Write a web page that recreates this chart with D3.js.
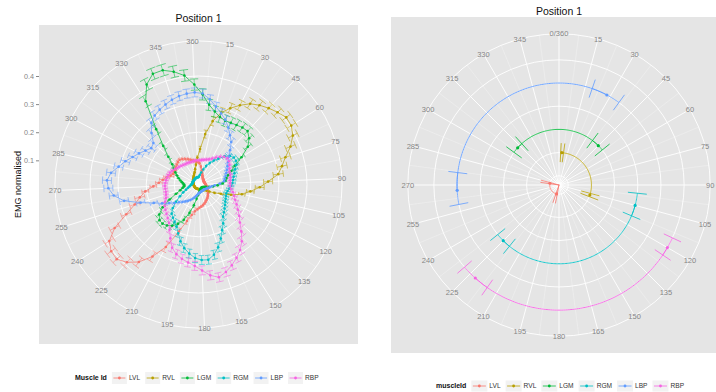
<!DOCTYPE html>
<html>
<head>
<meta charset="utf-8">
<script src="https://cdn.jsdelivr.net/npm/d3@7"></script>
<style>
  html, body { margin: 0; padding: 0; background: #fff; }
  svg { display: block; font-family: "Liberation Sans", Arial, sans-serif; }
</style>
</head>
<body>
<svg id="chart" width="716" height="392"></svg>
<script>
// ---------------- data ----------------
const muscles = ['LVL', 'RVL', 'LGM', 'RGM', 'LBP', 'RBP'];

// angle of each sample (degrees), left panel
const angles = [
  0, 5, 10, 15, 20, 25, 30, 35, 40, 45, 50, 55,
  60, 65, 70, 75, 80, 85, 90, 95, 100, 105, 110, 115,
  120, 125, 130, 135, 140, 145, 150, 155, 160, 165, 170, 175,
  180, 185, 190, 195, 200, 205, 210, 215, 220, 225, 230, 235,
  240, 245, 250, 255, 260, 265, 270, 275, 280, 285, 290, 295,
  300, 305, 310, 315, 320, 325, 330, 335, 340, 345, 350, 355
];

// mean normalised EMG per angle
const lvlMean = [
  0.095, 0.090, 0.078, 0.066, 0.057, 0.050, 0.045, 0.042, 0.040, 0.039, 0.038, 0.037,
  0.036, 0.036, 0.036, 0.036, 0.037, 0.038, 0.039, 0.040, 0.042, 0.044, 0.046, 0.048,
  0.050, 0.053, 0.056, 0.060, 0.064, 0.068, 0.072, 0.076, 0.080, 0.085, 0.089, 0.093,
  0.097, 0.102, 0.110, 0.125, 0.150, 0.195, 0.265, 0.318, 0.362, 0.390, 0.408, 0.405,
  0.390, 0.350, 0.292, 0.252, 0.228, 0.205, 0.175, 0.155, 0.142, 0.130, 0.118, 0.112,
  0.111, 0.112, 0.115, 0.119, 0.123, 0.125, 0.121, 0.116, 0.111, 0.106, 0.101, 0.098
];
const rvlMean = [
  0.110, 0.140, 0.195, 0.245, 0.282, 0.308, 0.332, 0.355, 0.370, 0.383, 0.395, 0.407,
  0.405, 0.392, 0.368, 0.338, 0.318, 0.300, 0.262, 0.232, 0.200, 0.172, 0.135, 0.100,
  0.078, 0.060, 0.050, 0.044, 0.040, 0.037, 0.035, 0.034, 0.033, 0.032, 0.032, 0.031,
  0.031, 0.030, 0.030, 0.030, 0.030, 0.030, 0.030, 0.030, 0.030, 0.030, 0.030, 0.030,
  0.030, 0.030, 0.030, 0.031, 0.031, 0.031, 0.032, 0.032, 0.033, 0.033, 0.034, 0.035,
  0.036, 0.037, 0.038, 0.040, 0.042, 0.044, 0.047, 0.050, 0.054, 0.060, 0.070, 0.085
];
const lgmMean = [
  0.370, 0.335, 0.300, 0.280, 0.266, 0.260, 0.262, 0.265, 0.270, 0.272, 0.258, 0.235,
  0.195, 0.160, 0.140, 0.125, 0.115, 0.110, 0.100, 0.082, 0.066, 0.052, 0.042, 0.036,
  0.033, 0.031, 0.030, 0.030, 0.030, 0.030, 0.030, 0.031, 0.032, 0.034, 0.036, 0.040,
  0.045, 0.052, 0.065, 0.090, 0.120, 0.150, 0.172, 0.188, 0.198, 0.203, 0.202, 0.190,
  0.165, 0.130, 0.100, 0.082, 0.072, 0.066, 0.065, 0.068, 0.073, 0.080, 0.088, 0.097,
  0.107, 0.118, 0.132, 0.160, 0.200, 0.262, 0.365, 0.415, 0.440, 0.440, 0.425, 0.405
];
const rgmMean = [
  0.040, 0.042, 0.048, 0.058, 0.070, 0.085, 0.100, 0.115, 0.130, 0.150, 0.165, 0.172,
  0.172, 0.165, 0.155, 0.148, 0.142, 0.138, 0.135, 0.130, 0.125, 0.120, 0.118, 0.120,
  0.123, 0.127, 0.133, 0.140, 0.148, 0.158, 0.178, 0.197, 0.222, 0.248, 0.270, 0.284,
  0.283, 0.276, 0.262, 0.246, 0.226, 0.202, 0.183, 0.172, 0.163, 0.155, 0.138, 0.115,
  0.092, 0.075, 0.062, 0.053, 0.047, 0.043, 0.040, 0.038, 0.037, 0.036, 0.036, 0.036,
  0.036, 0.036, 0.036, 0.036, 0.037, 0.037, 0.038, 0.038, 0.039, 0.039, 0.040, 0.040
];
const lbpMean = [
  0.342, 0.338, 0.320, 0.298, 0.280, 0.263, 0.243, 0.222, 0.205, 0.180, 0.160, 0.146,
  0.136, 0.128, 0.121, 0.115, 0.110, 0.106, 0.090, 0.072, 0.062, 0.056, 0.052, 0.048,
  0.046, 0.044, 0.042, 0.041, 0.040, 0.040, 0.040, 0.040, 0.040, 0.041, 0.042, 0.043,
  0.045, 0.048, 0.052, 0.057, 0.063, 0.069, 0.076, 0.083, 0.090, 0.098, 0.108, 0.122,
  0.138, 0.160, 0.186, 0.230, 0.285, 0.318, 0.335, 0.340, 0.328, 0.305, 0.287, 0.268,
  0.253, 0.238, 0.226, 0.232, 0.262, 0.290, 0.305, 0.314, 0.322, 0.330, 0.336, 0.340
];
const rbpMean = [
  0.100, 0.100, 0.102, 0.104, 0.107, 0.111, 0.118, 0.128, 0.138, 0.148, 0.153, 0.150,
  0.144, 0.138, 0.134, 0.132, 0.130, 0.128, 0.127, 0.127, 0.130, 0.139, 0.147, 0.155,
  0.167, 0.180, 0.197, 0.214, 0.240, 0.268, 0.290, 0.308, 0.325, 0.340, 0.352, 0.340,
  0.320, 0.304, 0.294, 0.285, 0.274, 0.258, 0.230, 0.205, 0.186, 0.176, 0.168, 0.162,
  0.157, 0.148, 0.139, 0.135, 0.133, 0.133, 0.134, 0.132, 0.130, 0.128, 0.126, 0.124,
  0.120, 0.115, 0.110, 0.107, 0.104, 0.102, 0.100, 0.100, 0.099, 0.099, 0.099, 0.100
];

// standard error per angle
const lvlErr = [
  0.006, 0.006, 0.006, 0.006, 0.006, 0.006, 0.006, 0.006, 0.004, 0.004, 0.004, 0.004,
  0.004, 0.004, 0.004, 0.004, 0.004, 0.004, 0.004, 0.004, 0.004, 0.004, 0.004, 0.004,
  0.004, 0.004, 0.004, 0.004, 0.004, 0.004, 0.004, 0.004, 0.004, 0.004, 0.004, 0.004,
  0.004, 0.004, 0.012, 0.012, 0.012, 0.012, 0.018, 0.018, 0.018, 0.018, 0.018, 0.018,
  0.018, 0.018, 0.018, 0.018, 0.018, 0.012, 0.012, 0.012, 0.012, 0.012, 0.012, 0.006,
  0.006, 0.006, 0.006, 0.006, 0.006, 0.006, 0.006, 0.006, 0.006, 0.006, 0.006, 0.006
];
const rvlErr = [
  0.006, 0.010, 0.014, 0.016, 0.018, 0.018, 0.018, 0.018, 0.018, 0.018, 0.018, 0.018,
  0.018, 0.018, 0.018, 0.018, 0.018, 0.018, 0.016, 0.016, 0.014, 0.012, 0.010, 0.008,
  0.005, 0.004, 0.003, 0.003, 0.003, 0.003, 0.003, 0.003, 0.003, 0.003, 0.003, 0.003,
  0.003, 0.003, 0.003, 0.003, 0.003, 0.003, 0.003, 0.003, 0.003, 0.003, 0.003, 0.003,
  0.003, 0.003, 0.003, 0.003, 0.003, 0.003, 0.003, 0.003, 0.003, 0.003, 0.003, 0.003,
  0.003, 0.003, 0.003, 0.003, 0.003, 0.003, 0.003, 0.003, 0.003, 0.004, 0.005, 0.005
];
const lgmErr = [
  0.020, 0.020, 0.020, 0.020, 0.020, 0.020, 0.020, 0.020, 0.018, 0.018, 0.016, 0.015,
  0.012, 0.010, 0.008, 0.006, 0.005, 0.005, 0.004, 0.004, 0.004, 0.004, 0.004, 0.004,
  0.004, 0.004, 0.004, 0.004, 0.004, 0.004, 0.004, 0.004, 0.004, 0.004, 0.004, 0.004,
  0.004, 0.004, 0.006, 0.008, 0.010, 0.012, 0.012, 0.012, 0.012, 0.012, 0.012, 0.012,
  0.010, 0.008, 0.006, 0.005, 0.005, 0.005, 0.005, 0.005, 0.005, 0.005, 0.005, 0.005,
  0.006, 0.008, 0.010, 0.012, 0.015, 0.018, 0.020, 0.020, 0.020, 0.020, 0.020, 0.020
];
const rgmErr = [
  0.004, 0.004, 0.005, 0.005, 0.006, 0.006, 0.007, 0.008, 0.009, 0.010, 0.010, 0.010,
  0.010, 0.010, 0.010, 0.010, 0.010, 0.010, 0.010, 0.010, 0.010, 0.010, 0.010, 0.010,
  0.010, 0.010, 0.011, 0.012, 0.013, 0.014, 0.015, 0.015, 0.016, 0.016, 0.016, 0.016,
  0.016, 0.016, 0.016, 0.016, 0.015, 0.014, 0.013, 0.012, 0.012, 0.010, 0.009, 0.008,
  0.007, 0.006, 0.005, 0.005, 0.004, 0.004, 0.004, 0.004, 0.004, 0.004, 0.004, 0.004,
  0.004, 0.004, 0.004, 0.004, 0.004, 0.004, 0.004, 0.004, 0.004, 0.004, 0.004, 0.004
];
const lbpErr = [
  0.016, 0.016, 0.016, 0.016, 0.016, 0.016, 0.016, 0.016, 0.016, 0.014, 0.012, 0.010,
  0.010, 0.009, 0.008, 0.008, 0.007, 0.007, 0.006, 0.005, 0.004, 0.004, 0.004, 0.004,
  0.004, 0.004, 0.004, 0.004, 0.004, 0.004, 0.004, 0.004, 0.004, 0.004, 0.004, 0.004,
  0.004, 0.004, 0.004, 0.004, 0.004, 0.005, 0.005, 0.006, 0.006, 0.007, 0.008, 0.009,
  0.010, 0.012, 0.014, 0.016, 0.016, 0.016, 0.016, 0.016, 0.016, 0.016, 0.016, 0.016,
  0.016, 0.016, 0.016, 0.016, 0.016, 0.016, 0.016, 0.016, 0.016, 0.016, 0.016, 0.016
];
const rbpErr = [
  0.006, 0.006, 0.006, 0.006, 0.006, 0.006, 0.007, 0.008, 0.008, 0.008, 0.008, 0.008,
  0.008, 0.008, 0.008, 0.008, 0.008, 0.008, 0.008, 0.008, 0.009, 0.010, 0.011, 0.012,
  0.013, 0.014, 0.015, 0.016, 0.016, 0.016, 0.016, 0.016, 0.016, 0.016, 0.016, 0.016,
  0.016, 0.016, 0.016, 0.016, 0.016, 0.015, 0.014, 0.012, 0.011, 0.010, 0.009, 0.009,
  0.008, 0.008, 0.008, 0.008, 0.008, 0.008, 0.008, 0.008, 0.008, 0.008, 0.008, 0.008,
  0.007, 0.007, 0.006, 0.006, 0.006, 0.006, 0.006, 0.006, 0.006, 0.006, 0.006, 0.006
];

// right panel: onset / offset angle of each muscle with their error range
const onset = [195, 5, 312, 105, 267, 120];
const onsetLo = [191, 3, 306, 96, 259, 115];
const onsetHi = [199, 8, 318, 113, 277, 124];
const offset = [281, 108, 405, 225, 388, 222];
const offsetLo = [278, 105, 397, 219, 379, 215];
const offsetHi = [285, 111, 411, 231, 396, 229];

// axis breaks / labels
const leftThetaBreaks = [15, 30, 45, 60, 75, 90, 105, 120, 135, 150, 165, 180,
  195, 210, 225, 240, 255, 270, 285, 300, 315, 330, 345, 360];
const leftThetaLabels = ['15', '30', '45', '60', '75', '90', '105', '120', '135', '150', '165', '180',
  '195', '210', '225', '240', '255', '270', '285', '300', '315', '330', '345', '360'];
const rightThetaBreaks = [0, 15, 30, 45, 60, 75, 90, 105, 120, 135, 150, 165,
  180, 195, 210, 225, 240, 255, 270, 285, 300, 315, 330, 345];
const rightThetaLabels = ['0/360', '15', '30', '45', '60', '75', '90', '105', '120', '135', '150', '165',
  '180', '195', '210', '225', '240', '255', '270', '285', '300', '315', '330', '345'];
const emgBreaks = [0.1, 0.2, 0.3, 0.4];

// ---------------- setup ----------------
const colour = d3.scaleOrdinal()
  .domain(muscles)
  .range(['#F8766D', '#B79F00', '#00BA38', '#00BFC4', '#619CFF', '#F564E3']);

const means = [lvlMean, rvlMean, lgmMean, rgmMean, lbpMean, rbpMean];
const errs = [lvlErr, rvlErr, lgmErr, rgmErr, lbpErr, rbpErr];

const svg = d3.select('#chart');
const rad = d => d * Math.PI / 180;
const GREY_TXT = '#868686';

function drawGrid(g, theta, ring, majors, rings) {
  const minors = d3.pairs([majors[0] - 15].concat(majors)).map(([a, b]) => (a + b) / 2);
  g.append('g').selectAll('line').data(minors).join('line')
    .attr('x1', 0).attr('y1', 0)
    .attr('x2', d => d3.pointRadial(rad(theta(d)), ring)[0])
    .attr('y2', d => d3.pointRadial(rad(theta(d)), ring)[1])
    .attr('stroke', '#F2F2F2').attr('stroke-width', 0.5);
  g.append('g').selectAll('line').data(majors).join('line')
    .attr('x1', 0).attr('y1', 0)
    .attr('x2', d => d3.pointRadial(rad(theta(d)), ring)[0])
    .attr('y2', d => d3.pointRadial(rad(theta(d)), ring)[1])
    .attr('stroke', '#fff').attr('stroke-width', 0.9);
  g.append('g').selectAll('circle').data(rings.concat([ring])).join('circle')
    .attr('r', d => d)
    .attr('fill', 'none').attr('stroke', '#fff').attr('stroke-width', 0.9);
}

function drawThetaLabels(g, theta, ring, breaks, labels) {
  g.append('g').selectAll('text').data(breaks).join('text')
    .attr('x', d => d3.pointRadial(rad(theta(d)), ring)[0])
    .attr('y', d => d3.pointRadial(rad(theta(d)), ring)[1])
    .attr('text-anchor', 'middle').attr('dy', '0.35em')
    .attr('font-size', 7.5).attr('fill', GREY_TXT)
    .text((d, i) => labels[i]);
}

function drawLegend(x0, cy, title, keyW, keyH) {
  const g = svg.append('g');
  const t = g.append('text').attr('x', x0).attr('y', cy).attr('dy', '0.35em')
    .attr('font-size', 7).attr('font-weight', 'bold').attr('fill', '#111').text(title);
  let x = x0 + t.node().getComputedTextLength() + 5;
  muscles.forEach(m => {
    g.append('rect').attr('x', x).attr('y', cy - keyH / 2).attr('width', keyW).attr('height', keyH)
      .attr('fill', '#F2F2F2');
    g.append('line').attr('x1', x + 1.5).attr('x2', x + keyW - 1.5).attr('y1', cy).attr('y2', cy)
      .attr('stroke', colour(m)).attr('stroke-width', 0.8);
    g.append('circle').attr('cx', x + keyW / 2).attr('cy', cy).attr('r', 1.4).attr('fill', colour(m));
    const lab = g.append('text').attr('x', x + keyW + 2).attr('y', cy).attr('dy', '0.35em')
      .attr('font-size', 6.6).attr('fill', '#333').text(m);
    x += keyW + 2 + lab.node().getComputedTextLength() + 5;
  });
}

// ---------------- left panel ----------------
const L = { x: 39, y: 25, size: 319 };
const lcx = L.x + L.size / 2, lcy = L.y + L.size / 2;
const ringL = 0.45 * L.size;
const rL = d3.scaleLinear().domain([0.014, 0.468]).range([0, 0.4 * L.size]);
const thetaL = d3.scaleLinear().domain([0, 360]).range([-2.4, 357.6]);

svg.append('rect').attr('x', L.x).attr('y', L.y).attr('width', L.size).attr('height', L.size)
  .attr('fill', '#E5E5E5');

const gL = svg.append('g').attr('transform', `translate(${lcx},${lcy})`);
drawGrid(gL, thetaL, ringL, leftThetaBreaks, emgBreaks.map(rL));
drawThetaLabels(gL, thetaL, ringL, leftThetaBreaks, leftThetaLabels);

const series = muscles.map((m, i) => ({
  name: m,
  pts: angles.map((a, j) => ({ a, v: means[i][j], e: errs[i][j] }))
}));

const capHalf = 2.25; // degrees, errorbar width 0.9 * 5
const radial = d3.lineRadial().angle(d => rad(thetaL(d[0]))).radius(d => rL(d[1]));

// error bars
series.forEach(s => {
  const g = gL.append('g').attr('stroke', colour(s.name)).attr('stroke-width', 0.55).attr('fill', 'none');
  s.pts.forEach(p => {
    const lo = p.v - p.e, hi = p.v + p.e;
    g.append('path').attr('d', radial([[p.a, lo], [p.a, hi]]));
    g.append('path').attr('d', radial([[p.a - capHalf, lo], [p.a, lo], [p.a + capHalf, lo]]));
    g.append('path').attr('d', radial([[p.a - capHalf, hi], [p.a, hi], [p.a + capHalf, hi]]));
  });
});

// lines
const lineL = d3.lineRadial()
  .angle(d => rad(thetaL(d.a)))
  .radius(d => rL(d.v))
  .curve(d3.curveLinearClosed);
series.forEach(s => {
  gL.append('path').datum(s.pts).attr('d', lineL)
    .attr('fill', 'none').attr('stroke', colour(s.name)).attr('stroke-width', 0.7);
});

// points
series.forEach(s => {
  gL.append('g').selectAll('circle').data(s.pts).join('circle')
    .attr('cx', d => d3.pointRadial(rad(thetaL(d.a)), rL(d.v))[0])
    .attr('cy', d => d3.pointRadial(rad(thetaL(d.a)), rL(d.v))[1])
    .attr('r', 1.3).attr('fill', colour(s.name));
});

// y axis
const yAxisScale = d3.scaleLinear().domain(rL.domain()).range([lcy, lcy - 0.4 * L.size]);
const yAxis = svg.append('g').attr('transform', `translate(${L.x},0)`)
  .call(d3.axisLeft(yAxisScale).tickValues(emgBreaks).tickSize(3).tickPadding(2).tickFormat(d3.format('.1f')));
yAxis.select('.domain').remove();
yAxis.selectAll('line').attr('stroke', GREY_TXT);
yAxis.selectAll('text').attr('fill', GREY_TXT).attr('font-size', 7.2)
  .attr('font-family', '"Liberation Sans", Arial, sans-serif');

svg.append('text').attr('transform', `translate(18,${lcy}) rotate(-90)`)
  .attr('text-anchor', 'middle').attr('dy', '0.35em')
  .attr('font-size', 9).attr('fill', '#111').text('EMG normalised');

svg.append('text').attr('x', lcx).attr('y', 18).attr('text-anchor', 'middle').attr('dy', '0.35em')
  .attr('font-size', 10.5).attr('fill', '#111').text('Position 1');

drawLegend(75, 378, 'Muscle Id', 15, 12);

// ---------------- right panel ----------------
const R = { x: 391, y: 17, size: 336 };
const rcx = R.x + R.size / 2, rcy = R.y + R.size / 2;
const ringR = 0.45 * R.size;
const rR = d3.scalePoint().domain(muscles).range([0, 0.4 * R.size]).padding(0.4);
const thetaR = d3.scaleLinear().domain([0, 360]).range([0, 360]);
const capR = 0.41 * rR.step();

svg.append('rect').attr('x', R.x).attr('y', R.y).attr('width', R.size).attr('height', R.size)
  .attr('fill', '#E5E5E5');

const gR = svg.append('g').attr('transform', `translate(${rcx},${rcy})`);
drawGrid(gR, thetaR, ringR, rightThetaBreaks, muscles.map(m => rR(m)));
drawThetaLabels(gR, thetaR, ringR, rightThetaBreaks, rightThetaLabels);

const arcLine = d3.lineRadial().angle(d => rad(thetaR(d[0]))).radius(d => d[1]);

muscles.forEach((m, i) => {
  const r = rR(m);
  const g = gR.append('g').attr('stroke', colour(m)).attr('fill', 'none');
  // arc from onset to offset
  const sweep = d3.range(onset[i], offset[i], 1).concat([offset[i]]).map(a => [a, r]);
  g.append('path').attr('d', arcLine(sweep)).attr('stroke-width', 0.9);
  // horizontal (angular) error bars at both ends
  [[onsetLo[i], onsetHi[i]], [offsetLo[i], offsetHi[i]]].forEach(([lo, hi]) => {
    const span = d3.range(lo, hi, 1).concat([hi]).map(a => [a, r]);
    g.append('path').attr('d', arcLine(span)).attr('stroke-width', 0.8);
    g.append('path').attr('d', arcLine([[lo, r - capR], [lo, r + capR]])).attr('stroke-width', 0.8);
    g.append('path').attr('d', arcLine([[hi, r - capR], [hi, r + capR]])).attr('stroke-width', 0.8);
  });
  [onset[i], offset[i]].forEach(a => {
    const p = d3.pointRadial(rad(thetaR(a)), r);
    gR.append('circle').attr('cx', p[0]).attr('cy', p[1]).attr('r', 1.6).attr('fill', colour(m));
  });
});

svg.append('text').attr('x', rcx).attr('y', 11).attr('text-anchor', 'middle').attr('dy', '0.35em')
  .attr('font-size', 10.5).attr('fill', '#111').text('Position 1');

drawLegend(436, 386, 'muscleId', 16, 11);
</script>
</body>
</html>
